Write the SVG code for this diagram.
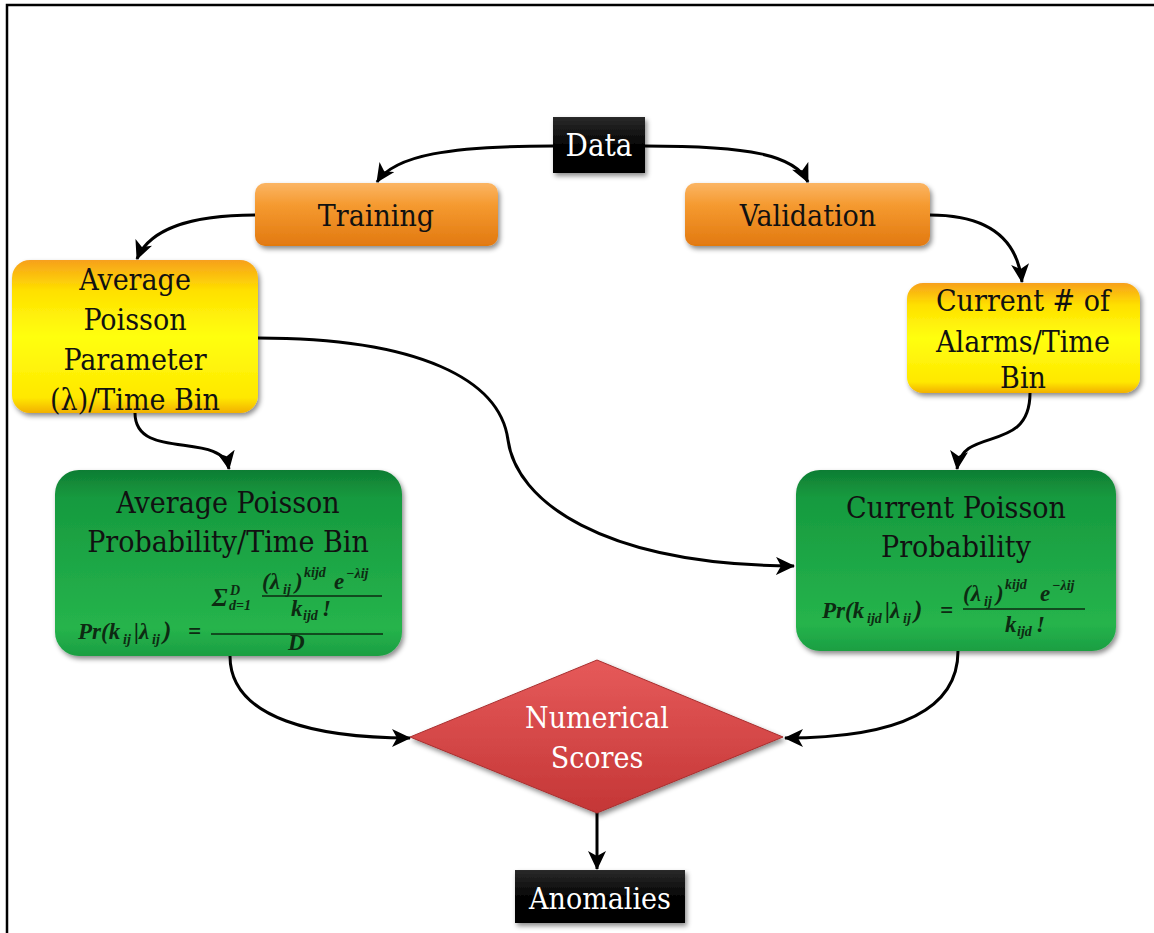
<svg xmlns="http://www.w3.org/2000/svg" width="1154" height="933" viewBox="0 0 1154 933">
<defs>
<style>
text{font-family:"Liberation Serif",serif}
.lbl,.wl{font-family:"DejaVu Serif Condensed","DejaVu Serif",serif;font-stretch:condensed;font-size:30px;text-anchor:middle}
.lbl{fill:#111}
.wl{fill:#fff}
.fm{font-style:italic;font-weight:bold;font-size:23px;fill:#0d2a12}
.s{font-size:14px}
.conn{fill:none;stroke:#000;stroke-width:3}
.fl{stroke:#0d2a12;stroke-width:1.6}
</style>
<linearGradient id="gOr" x1="0" y1="0" x2="0" y2="1">
<stop offset="0" stop-color="#fbb564"/><stop offset="0.35" stop-color="#f59a30"/><stop offset="1" stop-color="#e27910"/>
</linearGradient>
<linearGradient id="gYe" x1="0" y1="0" x2="0" y2="1">
<stop offset="0" stop-color="#f7a01c"/><stop offset="0.2" stop-color="#ffe000"/><stop offset="0.5" stop-color="#ffff10"/><stop offset="0.9" stop-color="#ffe800"/><stop offset="1" stop-color="#f2b000"/>
</linearGradient>
<linearGradient id="gGr" x1="0" y1="0" x2="0" y2="1">
<stop offset="0" stop-color="#0f7d33"/><stop offset="0.15" stop-color="#169a3f"/><stop offset="0.85" stop-color="#26b44c"/><stop offset="1" stop-color="#1b9e42"/>
</linearGradient>
<linearGradient id="gRd" x1="0" y1="0" x2="0" y2="1">
<stop offset="0" stop-color="#e65a5a"/><stop offset="1" stop-color="#c43636"/>
</linearGradient>
<linearGradient id="gBk" x1="0" y1="0" x2="0" y2="1">
<stop offset="0" stop-color="#2a2a2a"/><stop offset="0.5" stop-color="#050505"/><stop offset="1" stop-color="#000"/>
</linearGradient>
<filter id="sh" x="-10%" y="-10%" width="130%" height="140%">
<feDropShadow dx="2" dy="3" stdDeviation="2.5" flood-color="#000" flood-opacity="0.45"/>
</filter>
<marker id="ah" markerUnits="userSpaceOnUse" markerWidth="20" markerHeight="18" viewBox="0 0 20 18" refX="18" refY="9" orient="auto">
<path d="M0,0 L19,9 L0,18 L5,9 z" fill="#000"/>
</marker>
</defs>
<rect x="7" y="5" width="1170" height="950" fill="none" stroke="#000" stroke-width="2.5"/>

<g id="connectors">
<path class="conn" marker-end="url(#ah)" d="M553,146 C450,146 395,155 377,182"/>
<path class="conn" marker-end="url(#ah)" d="M645,146 C750,146 795,155 808,182"/>
<path class="conn" marker-end="url(#ah)" d="M255,215 C185,215 148,232 137,259"/>
<path class="conn" marker-end="url(#ah)" d="M930,215 C995,215 1018,245 1022,282"/>
<path class="conn" marker-end="url(#ah)" d="M135,413 C135,462 222,430 229,469"/>
<path class="conn" marker-end="url(#ah)" d="M258,338 C420,338 500,380 508,440 C516,500 600,565 794,566"/>
<path class="conn" marker-end="url(#ah)" d="M1030,393 C1030,455 962,425 957,469"/>
<path class="conn" marker-end="url(#ah)" d="M230,656 C230,720 320,738 410,738"/>
<path class="conn" marker-end="url(#ah)" d="M958,651 C958,722 870,738 785,738"/>
<path class="conn" marker-end="url(#ah)" d="M597,813 L597,869"/>
</g>

<g id="data">
<rect x="553" y="117" width="92" height="56" fill="url(#gBk)" filter="url(#sh)"/>
<text class="wl" x="599" y="156" style="font-size:31px">Data</text>
</g>

<g id="training">
<rect x="255" y="183" width="243" height="63" rx="10" fill="url(#gOr)" filter="url(#sh)"/>
<text class="lbl" x="376" y="226">Training</text>
</g>

<g id="validation">
<rect x="685" y="183" width="245" height="63" rx="10" fill="url(#gOr)" filter="url(#sh)"/>
<text class="lbl" x="808" y="226">Validation</text>
</g>

<g id="avg-param">
<rect x="12" y="260" width="246" height="153" rx="18" fill="url(#gYe)" filter="url(#sh)"/>
<text class="lbl" x="135" y="290">Average</text>
<text class="lbl" x="135" y="330">Poisson</text>
<text class="lbl" x="135" y="370">Parameter</text>
<text class="lbl" x="135" y="410">(λ)/Time Bin</text>
</g>

<g id="current-alarms">
<rect x="907" y="283" width="233" height="110" rx="16" fill="url(#gYe)" filter="url(#sh)"/>
<text class="lbl" x="1023" y="311">Current # of</text>
<text class="lbl" x="1023" y="352">Alarms/Time</text>
<text class="lbl" x="1023" y="388">Bin</text>
</g>

<g id="avg-prob">
<rect x="55" y="470" width="347" height="186" rx="24" fill="url(#gGr)" filter="url(#sh)"/>
<text class="lbl" x="228" y="513">Average Poisson</text>
<text class="lbl" x="228" y="552">Probability/Time Bin</text>
<text class="fm" x="78" y="639">Pr(k</text>
<text class="fm s" x="123" y="644">ij</text>
<text class="fm" x="134" y="639">|λ</text>
<text class="fm s" x="152" y="644">ij</text>
<text class="fm" x="163" y="639" style="font-size:25px">)</text>
<text class="fm" x="188" y="639">=</text>
<line class="fl" x1="211" y1="634" x2="383" y2="634"/>
<text class="fm" x="212" y="606" style="font-size:25px">Σ</text>
<text class="fm s" x="230" y="595">D</text>
<text class="fm s" x="229" y="610">d=1</text>
<text class="fm" x="262" y="589">(λ</text>
<text class="fm s" x="283" y="594">ij</text>
<text class="fm" x="295" y="589">)</text>
<text class="fm s" x="304" y="577">kijd</text>
<text class="fm" x="334" y="589">e</text>
<text class="fm s" x="346" y="578">−λij</text>
<line class="fl" x1="262" y1="596" x2="382" y2="596"/>
<text class="fm" x="291" y="616">k</text>
<text class="fm s" x="303" y="620">ijd</text>
<text class="fm" x="322" y="616">!</text>
<text class="fm" x="288" y="650">D</text>
</g>

<g id="cur-prob">
<rect x="796" y="470" width="320" height="181" rx="24" fill="url(#gGr)" filter="url(#sh)"/>
<text class="lbl" x="956" y="518">Current Poisson</text>
<text class="lbl" x="956" y="557">Probability</text>
<text class="fm" x="822" y="618">Pr(k</text>
<text class="fm s" x="867" y="623">ijd</text>
<text class="fm" x="885" y="618">|λ</text>
<text class="fm s" x="903" y="623">ij</text>
<text class="fm" x="914" y="618" style="font-size:25px">)</text>
<text class="fm" x="940" y="618">=</text>
<line class="fl" x1="963" y1="609" x2="1085" y2="609"/>
<text class="fm" x="963" y="601">(λ</text>
<text class="fm s" x="984" y="606">ij</text>
<text class="fm" x="996" y="601">)</text>
<text class="fm s" x="1005" y="589">kijd</text>
<text class="fm" x="1040" y="601">e</text>
<text class="fm s" x="1052" y="590">−λij</text>
<text class="fm" x="1005" y="632">k</text>
<text class="fm s" x="1017" y="636">ijd</text>
<text class="fm" x="1036" y="632">!</text>
</g>

<g id="scores">
<polygon points="410,737 597,660 783,737 597,813" fill="url(#gRd)" stroke="#a83030" stroke-width="1" filter="url(#sh)"/>
<text class="wl" x="597" y="728">Numerical</text>
<text class="wl" x="597" y="768">Scores</text>
</g>

<g id="anomalies">
<rect x="515" y="870" width="170" height="53" fill="url(#gBk)" filter="url(#sh)"/>
<text class="wl" x="600" y="909">Anomalies</text>
</g>
</svg>
